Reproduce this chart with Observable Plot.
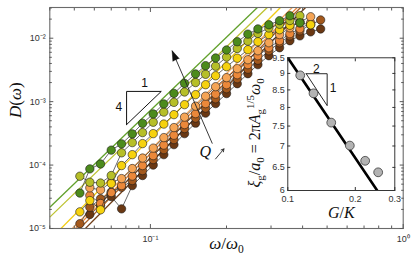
<!DOCTYPE html>
<html><head><meta charset="utf-8">
<script src="https://cdn.jsdelivr.net/npm/d3@7"></script>
<script src="https://cdn.jsdelivr.net/npm/@observablehq/plot@0.6"></script>
<style>
html,body{margin:0;padding:0;background:#fff;}
#wrap{position:relative;width:415px;height:260px;overflow:hidden;background:#fff;}
#wrap svg{display:block;}
#inset{position:absolute;left:237px;top:50px;}
</style></head><body><div id="wrap"><div id="main"></div><div id="inset"></div></div>
<script>
// ---------- main panel data ----------
const freq = [0.0526,0.0576,0.0635,0.0700,0.0769,0.0848,0.0931,0.1026,0.1130,0.1239,0.1365,0.1509,0.1653,0.1811,0.2001,0.2206,0.2430,0.2662,0.2942,0.3243,0.3563,0.3903,0.4304,0.4714];
const seriesNames = ["Q1","Q2","Q3","Q4","Q5","Q6","Q7"];
const seriesColors = ["#6a3813","#a3581c","#eb883a","#f5a455","#f6d20e","#b6bf28","#4c8b1c"];
const fitColors = ["#6f3d18","#a85e24","#e8873c","#f3a75e","#f2cc14","#bdc332","#62a12c"];
const dDarkBrown = [null,1.66e-5,2.30e-5,3.19e-5,2.04e-5,4.75e-5,6.84e-5,1.00e-4,1.46e-4,2.10e-4,3.13e-4,4.58e-4,6.59e-4,9.31e-4,1.34e-3,1.92e-3,2.76e-3,3.83e-3,5.30e-3,7.08e-3,9.14e-3,1.09e-2,1.26e-2,1.40e-2];
const dBrown = [1.19e-5,2.16e-5,2.94e-5,3.73e-5,4.47e-5,5.70e-5,8.18e-5,1.22e-4,1.75e-4,2.52e-4,3.76e-4,5.50e-4,7.91e-4,1.11e-3,1.60e-3,2.30e-3,3.25e-3,4.51e-3,6.35e-3,8.49e-3,1.09e-2,1.31e-2,1.63e-2,1.94e-2];
const dOrange = [null,3.31e-5,2.48e-5,3.69e-5,4.75e-5,6.71e-5,9.82e-5,1.41e-4,2.07e-4,2.96e-4,4.35e-4,6.47e-4,9.31e-4,1.31e-3,1.85e-3,2.66e-3,3.83e-3,5.30e-3,7.08e-3,9.14e-3,1.18e-2,1.41e-2,1.75e-2,null];
const dLightOrange = [null,4.38e-5,4.06e-5,5.36e-5,6.12e-5,8.81e-5,1.29e-4,1.85e-4,2.71e-4,3.90e-4,5.70e-4,8.49e-4,1.22e-3,1.72e-3,2.39e-3,3.31e-3,4.58e-3,6.35e-3,8.49e-3,1.14e-2,1.46e-2,1.82e-2,2.18e-2,null];
const dYellow = [1.83e-5,2.76e-5,1.97e-5,5.12e-5,9.82e-5,1.46e-4,2.18e-4,3.13e-4,4.43e-4,6.24e-4,8.97e-4,1.29e-3,1.85e-3,2.56e-3,3.56e-3,4.84e-3,6.59e-3,8.81e-3,1.14e-2,1.36e-2,1.60e-2,1.75e-2,1.63e-2,null];
const dYellowGreen = [6.67e-5,5.36e-5,5.21e-5,6.84e-5,1.56e-4,2.26e-4,3.25e-4,4.74e-4,6.85e-4,9.75e-4,1.42e-3,2.00e-3,2.70e-3,3.62e-3,5.04e-3,6.90e-3,8.99e-3,1.19e-2,1.45e-2,1.66e-2,1.90e-2,2.26e-2,null,null];
const dGreen = [3.62e-5,8.71e-5,1.04e-4,1.72e-4,2.16e-4,3.10e-4,4.55e-4,6.40e-4,9.20e-4,1.35e-3,1.94e-3,2.73e-3,3.69e-3,4.88e-3,6.52e-3,8.81e-3,1.16e-2,1.40e-2,1.63e-2,1.89e-2,2.26e-2,1.75e-2,null,null];
const seriesValues = [dDarkBrown,dBrown,dOrange,dLightOrange,dYellow,dYellowGreen,dGreen];
// power-law guide lines (start and end points)
const fitX1 = [0.0553,0.0525,0.0505,0.0491,0.0443,0.04,0.04];
const fitD1 = [1e-5,1e-5,1e-5,1e-5,1e-5,1.51e-5,2.16e-5];
const fitX2 = [0.411,0.393,0.381,0.364,0.327,0.290,0.265];
const fitD2 = [0.0305,0.0305,0.0305,0.0305,0.0305,0.0305,0.0305];
// axes
const xTicks = [0.1,1];
const xTickLabels = ["10⁻¹","10⁰"];
const xMinor = [0.04,0.05,0.06,0.07,0.08,0.09,0.2,0.3,0.4,0.5,0.6,0.7,0.8,0.9];
const yTicks = [1e-5,1e-4,1e-3,1e-2];
const yTickLabels = ["10⁻⁵","10⁻⁴","10⁻³","10⁻²"];
const yMinor = [2e-5,3e-5,4e-5,5e-5,6e-5,7e-5,8e-5,9e-5,2e-4,3e-4,4e-4,5e-4,6e-4,7e-4,8e-4,9e-4,2e-3,3e-3,4e-3,5e-3,6e-3,7e-3,8e-3,9e-3,2e-2,3e-2];
const xLabel = "ω/ω0";
const yLabel = "D(ω)";
// annotations
const slopeTri = [{x:0.0805,y:4.35e-4},{x:0.0805,y:1.45e-3},{x:0.1104,y:1.45e-3},{x:0.0805,y:4.35e-4}];
const slopeLabels = [{x:0.0948,y:1.94e-3,t:"1"},{x:0.0750,y:8.13e-4,t:"4"}];
const bigArrow = [{x1:0.1758,y1:2.18e-4,x2:0.1219,y2:6.35e-3}];
const qLabel = [{x:0.165,y:1.59e-4,t:"Q"}];
const qArrow = [{x1:0.181,y1:1.25e-4,x2:0.1954,y2:1.80e-4}];

// ---------- inset data ----------
const gk = [0.1136,0.1302,0.1562,0.189,0.2213,0.2529];
const xi = [8.94,8.40,7.59,7.01,6.65,6.39];
const fitGK = [0.1,0.2504];
const fitXi = [9.5,6.0];
const insetTri = [{x:0.1208,y:8.99},{x:0.1498,y:8.99},{x:0.1498,y:8.05},{x:0.1208,y:8.99}];
const insetTriLabels = [{x:0.134,y:9.12,t:"2"},{x:0.1593,y:8.56,t:"1"}];
const ixTicks = [0.1,0.2,0.3];
const ixTickLabels = ["0.1","0.2","0.3"];
const iyTicks = [6,6.5,7,7.5,8,8.5,9,9.5];
const iyTickLabels = ["6","6.5","7","7.5","8","8.5","9","9.5"];
const ixLabel = "G/K";
const iyLabel = "ξg/a0 = 2πAg1/5ω0";

// ---------- rich text (italic / sub / sup) ----------
const richLabels = {
  "D(ω)": [["D","i"],["(",""],["ω","i"],[")",""]],
  "ω/ω0": [["ω","i"],["/",""],["ω","i"],["0","sub"]],
  "G/K": [["G","i"],["/",""],["K","i"]],
  "Q": [["Q","i"]],
  "ξg/a0 = 2πAg1/5ω0": [["ξ","i"],["g","sub"],["/",""],["a","i"],["0","sub"],[" = 2π",""],["A","i"],["g","sub"],["1/5","sup"],["ω","i"],["0","sub"]]
};
function applyRich(svg){
  d3.select(svg).selectAll("text").each(function(){
    const parts = richLabels[this.textContent];
    if (!parts) return;
    const t = d3.select(this); t.text(null);
    let shift = 0;
    for (const [s,k] of parts) {
      const ts = t.append("tspan").text(s);
      const target = k==="sub" ? 4 : k==="sup" ? -6 : 0;
      if (target !== shift) { ts.attr("dy", target - shift); shift = target; }
      if (k==="sub"||k==="sup") ts.attr("font-size","0.68em");
      if (k==="i") ts.attr("font-style","italic");
    }
  });
}

const sans = "Liberation Sans, Arial, Helvetica, sans-serif";
const serif = "Liberation Serif, 'Times New Roman', 'DejaVu Serif', serif";
const axisGray = "#5a5a5a";

function tickAxes(ax, ticks, minor, anchors, major, minorLen, col){
  const A = ax==="x" ? Plot.axisX : Plot.axisY;
  const out = [];
  for (const a of anchors) {
    out.push(A(ticks,{anchor:a,tickSize:-major,text:()=>"",stroke:col,label:null}));
    if (minor.length) out.push(A(minor,{anchor:a,tickSize:-minorLen,text:()=>"",stroke:col,label:null}));
  }
  return out;
}

// ---------- main plot ----------
const xLabMap = new Map(xTicks.map((d,i)=>[d,xTickLabels[i]]));
const yLabMap = new Map(yTicks.map((d,i)=>[d,yTickLabels[i]]));
const fits = seriesNames.map((s,i)=>({s,x1:fitX1[i],d1:fitD1[i],x2:fitX2[i],d2:fitD2[i]}));
const seriesRows = seriesNames.map((s,i)=>freq.map((f,j)=>({s,f,D:seriesValues[i][j]})).filter(d=>d.D!=null));

const mainMarks = [
  ...fits.map((d,i)=>Plot.link([d],{x1:"x1",y1:"d1",x2:"x2",y2:"d2",stroke:fitColors[i],strokeWidth:1.3,clip:true})),
  ...seriesRows.flatMap((rows,i)=>[
    Plot.line(rows,{x:"f",y:"D",stroke:"#2b2b2b",strokeWidth:0.7}),
    Plot.dot(rows,{x:"f",y:"D",r:4.2,fill:seriesColors[i],stroke:"#1a1a1a",strokeWidth:0.6})
  ]),
  Plot.line(slopeTri,{x:"x",y:"y",stroke:"#111",strokeWidth:1}),
  Plot.text(slopeLabels,{x:"x",y:"y",text:"t",fontSize:12,fontFamily:sans,fill:"#111"}),
  Plot.link(bigArrow,{x1:"x1",y1:"y1",x2:"x2",y2:"y2",stroke:"#222",strokeWidth:0.9}),
  Plot.vector(bigArrow,{x:"x2",y:"y2",rotate:-23,length:10,r:3.4,shape:"spike",anchor:"end",fill:"#111",stroke:"#111",strokeWidth:0.5}),
  Plot.text(qLabel,{x:"x",y:"y",text:"t",fontSize:16,fontFamily:serif,fill:"#111"}),
  Plot.arrow(qArrow,{x1:"x1",y1:"y1",x2:"x2",y2:"y2",stroke:"#222",strokeWidth:0.9,headLength:5}),
  Plot.frame({stroke:"#6a6a6a",strokeWidth:1.1}),
  ...tickAxes("x",xTicks,xMinor,["bottom","top"],4,2.5,axisGray),
  ...tickAxes("y",yTicks,yMinor,["left","right"],4,2.5,axisGray),
  Plot.axisX(xTicks,{anchor:"bottom",tickSize:0,tickPadding:7,text:d=>xLabMap.get(d),fontSize:9,fontFamily:sans,fill:"#333",label:null}),
  Plot.axisY(yTicks,{anchor:"left",tickSize:0,tickPadding:4,text:d=>yLabMap.get(d),fontSize:9,fontFamily:sans,fill:"#333",label:null}),
  Plot.text([xLabel],{frameAnchor:"bottom",dy:20,text:d=>d,fontSize:17,fontFamily:serif,fill:"#111"}),
  Plot.text([yLabel],{frameAnchor:"left",dx:-34,rotate:-90,text:d=>d,fontSize:17,fontFamily:serif,fill:"#111"})
];

const main = Plot.plot({
  width:415,height:260,marginLeft:49.3,marginRight:12.3,marginTop:7,marginBottom:32,
  x:{type:"log",domain:[0.04,1],label:null,axis:null},
  y:{type:"log",domain:[1e-5,0.0305],label:null,axis:null},
  style:{background:"transparent",overflow:"visible"},
  marks:mainMarks
});
applyRich(main);
document.getElementById("main").appendChild(main);

// ---------- inset ----------
const ixMap = new Map(ixTicks.map((d,i)=>[d,ixTickLabels[i]]));
const iyMap = new Map(iyTicks.map((d,i)=>[d,iyTickLabels[i]]));
const insetPts = gk.map((g,i)=>({g,xi:xi[i]}));
const insetFit = fitGK.map((g,i)=>({g,xi:fitXi[i]}));
const inset = Plot.plot({
  width:175,height:175,marginLeft:50.3,marginRight:17.7,marginTop:7.3,marginBottom:35,
  x:{type:"log",domain:[0.1,0.3],label:null,axis:null},
  y:{type:"log",domain:[6,9.5],label:null,axis:null},
  style:{background:"transparent",overflow:"visible"},
  marks:[
    Plot.frame({fill:"white",stroke:"none"}),
    Plot.line(insetFit,{x:"g",y:"xi",stroke:"#000",strokeWidth:2.6,clip:true}),
    Plot.line(insetTri,{x:"x",y:"y",stroke:"#111",strokeWidth:0.9}),
    Plot.text(insetTriLabels,{x:"x",y:"y",text:"t",fontSize:12,fontFamily:sans,fill:"#111"}),
    Plot.dot(insetPts,{x:"g",y:"xi",r:4.4,fill:"#b3b3b3",stroke:"#3a3a3a",strokeWidth:0.8}),
    Plot.frame({stroke:"#222",strokeWidth:0.9}),
    ...tickAxes("x",ixTicks,[],["bottom","top"],3,2,"#333"),
    ...tickAxes("y",iyTicks,[],["left","right"],3,2,"#333"),
    Plot.axisX(ixTicks,{anchor:"bottom",tickSize:0,tickPadding:5,text:d=>ixMap.get(d),fontSize:9,fontFamily:sans,fill:"#333",label:null}),
    Plot.axisY(iyTicks,{anchor:"left",tickSize:0,tickPadding:3,text:d=>iyMap.get(d),fontSize:9,fontFamily:sans,fill:"#333",label:null}),
    Plot.text([ixLabel],{frameAnchor:"bottom",dy:27,text:d=>d,fontSize:16,fontFamily:serif,fill:"#111"}),
    Plot.text([iyLabel],{frameAnchor:"bottom-left",dx:-28.3,dy:-3,rotate:-90,textAnchor:"start",text:d=>d,fontSize:16,fontFamily:serif,fill:"#111"})
  ]
});
applyRich(inset);
document.getElementById("inset").appendChild(inset);
</script></body></html>
